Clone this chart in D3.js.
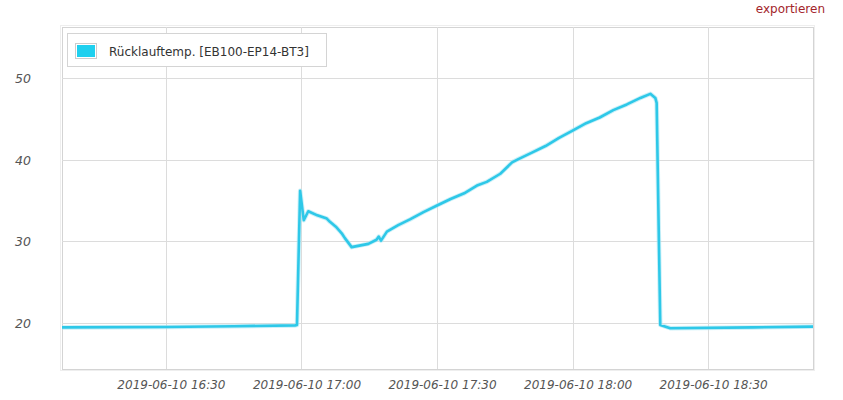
<!DOCTYPE html>
<html>
<head>
<meta charset="utf-8">
<script src="https://cdn.jsdelivr.net/npm/d3@7"></script>
<style>
  html, body { margin: 0; padding: 0; background: #fff; }
  svg { display: block; }
</style>
</head>
<body>
<svg id="chart" width="843" height="400"></svg>
<script>
// Data: minutes after 16:00 on 2019-06-10, and temperature values
const seriesName = "Rücklauftemp. [EB100-EP14-BT3]";
const times = [7, 30, 45, 58.6, 59.0, 59.7, 60.5, 61.5, 63.5, 65.6, 66.3, 67.6, 68.9, 69.6, 71.1, 74.8, 76.6, 77.1, 77.6, 78.9, 81.4,
  84, 87, 90, 93, 96, 99, 101, 104, 106.6, 108, 111, 114, 117, 120, 123, 126, 129, 132, 135, 137.2, 138.3, 138.6,
  139.4, 141.6, 160, 173.2];
const temps = [19.45, 19.5, 19.6, 19.7, 19.75, 36.2, 32.6, 33.7, 33.2, 32.8, 32.4, 31.8, 31.0, 30.4, 29.3, 29.7, 30.2, 30.6, 30.1, 31.2, 32.0,
  32.7, 33.6, 34.4, 35.2, 35.9, 36.9, 37.3, 38.3, 39.7, 40.1, 40.9, 41.7, 42.7, 43.6, 44.5, 45.2, 46.1, 46.8, 47.6, 48.1, 47.6, 47.0,
  19.75, 19.35, 19.45, 19.55];
const yTicks = [20, 30, 40, 50];
const xTickMinutes = [30, 60, 90, 120, 150];
const xTickLabels = ["2019-06-10 16:30", "2019-06-10 17:00", "2019-06-10 17:30", "2019-06-10 18:00", "2019-06-10 18:30"];
const exportLabel = "exportieren";

const base = new Date(2019, 5, 10, 16, 0, 0);
const toDate = m => new Date(base.getTime() + m * 60000);
const data = times.map((t, i) => ({ t: toDate(t), v: temps[i] }));

const svg = d3.select("#chart");
const L = 62, R = 813, T = 27, B = 369;

const x = d3.scaleTime().domain([toDate(7.0), toDate(173.2)]).range([L, R]);
const y = d3.scaleLinear().domain([14.35, 56.3]).range([B, T]);

// frame shadow
svg.append("rect").attr("x", L - 1.5).attr("y", T - 1.5).attr("width", R - L + 3).attr("height", B - T + 3)
  .attr("fill", "none").attr("stroke", "#eeeeee").attr("stroke-width", 1);
svg.append("rect").attr("x", L + 0.5).attr("y", T + 0.5).attr("width", R - L).attr("height", B - T)
  .attr("fill", "#fff").attr("stroke", "#d4d4d4").attr("stroke-width", 1);

// grid lines
const gx = svg.append("g").attr("class", "xgrid")
  .attr("transform", `translate(0,${B})`)
  .call(d3.axisBottom(x).tickValues(xTickMinutes.map(toDate)).tickSize(-(B - T)).tickFormat(""));
gx.select(".domain").remove();
gx.selectAll("line").attr("stroke", "#dcdcdc").attr("shape-rendering", "crispEdges");

const gy = svg.append("g").attr("class", "ygrid")
  .attr("transform", `translate(${L},0)`)
  .call(d3.axisLeft(y).tickValues(yTicks).tickSize(-(R - L)).tickFormat(""));
gy.select(".domain").remove();
gy.selectAll("line").attr("stroke", "#dcdcdc").attr("shape-rendering", "crispEdges");

// axis labels
const ax = svg.append("g").attr("transform", `translate(0,${B})`)
  .call(d3.axisBottom(x).tickValues(xTickMinutes.map(toDate)).tickSize(0)
    .tickFormat((d, i) => xTickLabels[i]));
ax.select(".domain").remove();
ax.selectAll("text").attr("dx", 5).attr("dy", 17)
  .style("font-family", "DejaVu Sans").style("font-size", "12px").style("font-style", "italic").attr("fill", "#555");

const ay = svg.append("g").attr("transform", `translate(31,0)`)
  .call(d3.axisLeft(y).tickValues(yTicks).tickSize(0));
ay.select(".domain").remove();
ay.selectAll("text").attr("x", 0).attr("dy", "0.35em")
  .style("font-family", "DejaVu Sans").style("font-size", "12.5px").style("font-style", "italic").attr("fill", "#555");

// line
const line = d3.line().x(d => x(d.t)).y(d => y(d.v));
svg.append("path").datum(data).attr("d", line).attr("fill", "none")
  .attr("stroke", "#a9e6f4").attr("stroke-width", 4.5).attr("stroke-linejoin", "round").attr("opacity", 0.6);
svg.append("path").datum(data).attr("d", line).attr("fill", "none")
  .attr("stroke", "#2ec8e8").attr("stroke-width", 2.6).attr("stroke-linejoin", "round");

// legend
const lg = svg.append("g");
lg.append("rect").attr("x", 67.5).attr("y", 33.5).attr("width", 259).attr("height", 33)
  .attr("fill", "#fff").attr("stroke", "#d4d4d4");
lg.append("rect").attr("x", 75.5).attr("y", 43.5).attr("width", 21).attr("height", 15)
  .attr("fill", "#fff").attr("stroke", "#cccccc");
lg.append("rect").attr("x", 77).attr("y", 45).attr("width", 18).attr("height", 12).attr("fill", "#1fd0ef");
lg.append("text").attr("x", 109).attr("y", 55.5).text(seriesName)
  .style("font-family", "DejaVu Sans").style("font-size", "12px").attr("fill", "#333");

// export link
svg.append("text").attr("x", 825).attr("y", 13).attr("text-anchor", "end").text(exportLabel)
  .style("font-family", "DejaVu Sans").style("font-size", "12px").attr("fill", "#a3252b");
</script>
</body>
</html>
